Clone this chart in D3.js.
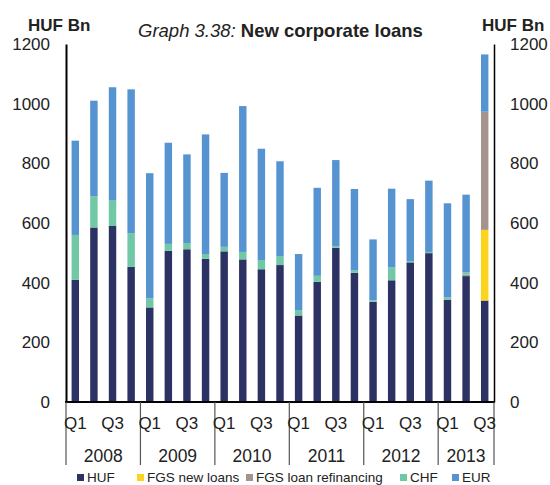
<!DOCTYPE html>
<html>
<head>
<meta charset="utf-8">
<script src="https://cdn.jsdelivr.net/npm/d3@7"></script>
<style>
  html, body { margin: 0; padding: 0; background: #fff; }
  svg { display: block; font-family: "Liberation Sans", Arial, sans-serif; }
</style>
</head>
<body>
<svg id="chart" width="550" height="485"></svg>
<script>
// ---- data ----
const years = ["2008", "2009", "2010", "2011", "2012", "2013"];
const quarters = ["Q1", "Q2", "Q3", "Q4"];
const quarterLabels = ["Q1", "", "Q3", ""];
const categories = [
  "2008Q1","2008Q2","2008Q3","2008Q4",
  "2009Q1","2009Q2","2009Q3","2009Q4",
  "2010Q1","2010Q2","2010Q3","2010Q4",
  "2011Q1","2011Q2","2011Q3","2011Q4",
  "2012Q1","2012Q2","2012Q3","2012Q4",
  "2013Q1","2013Q2","2013Q3"
];
const seriesNames = ["HUF", "FGS new loans", "FGS loan refinancing", "CHF", "EUR"];
const huf      = [410,585,590,453, 317,507,512,480, 505,478,445,459, 290,403,517,433, 336,408,468,499, 343,422,340];
const fgsNew   = [0,0,0,0, 0,0,0,0, 0,0,0,0, 0,0,0,0, 0,0,0,0, 0,0,237];
const fgsRefin = [0,0,0,0, 0,0,0,0, 0,0,0,0, 0,0,0,0, 0,0,0,0, 0,5,396];
const chf      = [150,105,85,113, 30,23,21,16, 15,25,31,30, 18,20,6,8, 5,43,4,4, 8,8,0];
const eur      = [316,320,380,482, 420,339,297,401, 248,489,373,318, 188,295,288,273, 204,264,208,239, 315,260,192];
const yTicks = [0, 200, 400, 600, 800, 1000, 1200];
const colors = ["#2c3263", "#fdd41d", "#a3958d", "#71c8a6", "#5694d1"];

(function () {
// ---- build table ----
const seriesValues = [huf, fgsNew, fgsRefin, chf, eur];
const table = categories.map((c, i) => {
  const row = { cat: c };
  seriesNames.forEach((s, k) => row[s] = seriesValues[k][i]);
  return row;
});

const svg = d3.select("#chart");
const mLeft = 66, mRight = 494, mTop = 44, mBottom = 402;

const x = d3.scaleBand().domain(categories).range([mLeft, mRight])
  .paddingInner(0.6).paddingOuter(0.3);
const y = d3.scaleLinear().domain([0, 1200]).range([mBottom, mTop]);
const color = d3.scaleOrdinal().domain(seriesNames).range(colors);

const stacked = d3.stack().keys(seriesNames)(table);

// bars
svg.append("g").selectAll("g").data(stacked).join("g")
  .attr("fill", d => color(d.key))
  .selectAll("rect").data(d => d).join("rect")
  .attr("x", d => x(d.data.cat))
  .attr("width", x.bandwidth())
  .attr("y", d => y(d[1]))
  .attr("height", d => Math.max(0, y(d[0]) - y(d[1])));

// left axis
const yl = svg.append("g").attr("transform", `translate(${mLeft},0)`)
  .call(d3.axisLeft(y).tickValues(yTicks).tickSize(0).tickPadding(16).tickFormat(d3.format("d")));
yl.select(".domain").attr("stroke", "#000").attr("stroke-width", 2);
yl.selectAll("text").attr("font-size", "17px").attr("fill", "#222").attr("font-family", "Liberation Sans, Arial, sans-serif");

// right axis
const yr = svg.append("g").attr("transform", `translate(${mRight},0)`)
  .call(d3.axisRight(y).tickValues(yTicks).tickSize(0).tickPadding(16).tickFormat(d3.format("d")));
yr.select(".domain").attr("stroke", "#000").attr("stroke-width", 1.5);
yr.selectAll("text").attr("font-size", "17px").attr("fill", "#222").attr("font-family", "Liberation Sans, Arial, sans-serif");

// x axis line
svg.append("line").attr("x1", mLeft - 1).attr("x2", mRight + 1)
  .attr("y1", mBottom).attr("y2", mBottom)
  .attr("stroke", "#000").attr("stroke-width", 2);

// year separators
const step = x.step();
const yearBounds = years.map((yy, j) => x(categories[j * 4]) - (step - x.bandwidth()) / 2);
yearBounds.push(mRight);
svg.append("g").selectAll("line").data(yearBounds).join("line")
  .attr("x1", d => d).attr("x2", d => d)
  .attr("y1", mBottom).attr("y2", 465)
  .attr("stroke", "#555").attr("stroke-width", 1.2);

// quarter labels
svg.append("g").selectAll("text").data(categories).join("text")
  .attr("x", d => x(d) + x.bandwidth() / 2)
  .attr("y", 429)
  .attr("text-anchor", "middle")
  .attr("font-size", "17px").attr("fill", "#222")
  .text((d, i) => quarterLabels[i % 4]);

// year labels
svg.append("g").selectAll("text").data(years).join("text")
  .attr("x", (d, j) => (yearBounds[j] + yearBounds[j + 1]) / 2)
  .attr("y", 462)
  .attr("text-anchor", "middle")
  .attr("font-size", "17.5px").attr("fill", "#222")
  .text(d => d);

// unit labels
svg.append("text").attr("x", 28).attr("y", 31)
  .attr("font-size", "17px").attr("font-weight", "bold").attr("fill", "#222").text("HUF Bn");
svg.append("text").attr("x", 482).attr("y", 31)
  .attr("font-size", "17px").attr("font-weight", "bold").attr("fill", "#222").text("HUF Bn");

// title
const title = svg.append("text").attr("x", 138).attr("y", 37).attr("font-size", "18.5px").attr("fill", "#222");
title.append("tspan").attr("font-style", "italic").text("Graph 3.38: ");
title.append("tspan").attr("font-weight", "bold").text("New corporate loans");

// legend
const legendX = [77, 137, 246, 400, 452];
const lg = svg.append("g").selectAll("g").data(seriesNames).join("g")
  .attr("transform", (d, i) => `translate(${legendX[i]},0)`);
lg.append("rect").attr("x", 0).attr("y", 474).attr("width", 7).attr("height", 7)
  .attr("fill", d => color(d));
lg.append("text").attr("x", 10).attr("y", 481.5)
  .attr("font-size", "13.5px").attr("fill", "#222").text(d => d);
})();
</script>
</body>
</html>
